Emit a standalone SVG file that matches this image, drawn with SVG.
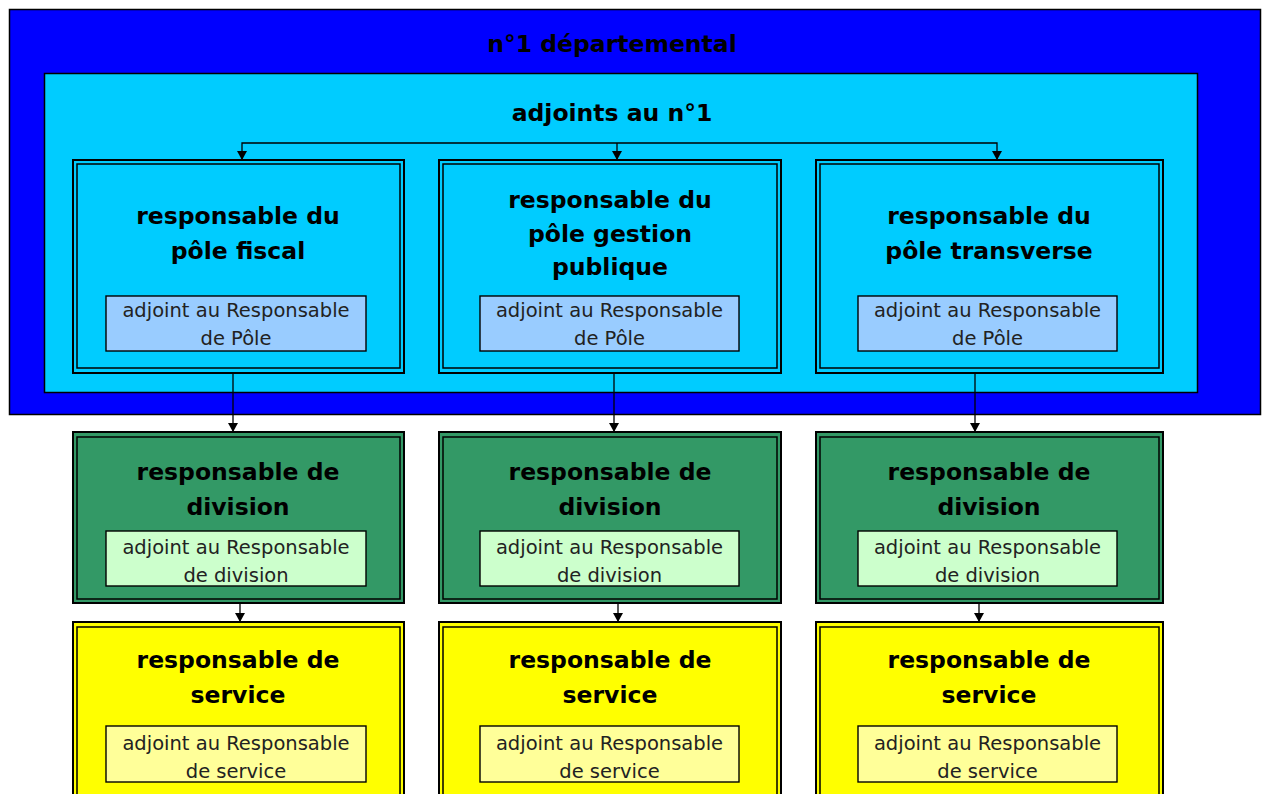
<svg xmlns="http://www.w3.org/2000/svg" width="1265" height="794" viewBox="0 0 1265 794">
<defs>
<style>
.big{font-family:"DejaVu Sans","Liberation Sans",sans-serif;font-weight:bold;font-size:23.5px;fill:#000;text-anchor:middle}
.small{font-family:"DejaVu Sans","Liberation Sans",sans-serif;font-size:19.5px;fill:#222;text-anchor:middle}
.outer{stroke:#000;stroke-width:2}
.inner{fill:none;stroke:#000;stroke-width:1.5}
.sub{stroke:#000;stroke-width:1.4}
.pole{fill:#00CCFF}
.div{fill:#339966}
.svc{fill:#FFFF00}
.conn{fill:none;stroke:#000;stroke-width:1.3}
</style>
<marker id="arr" markerUnits="userSpaceOnUse" markerWidth="11" markerHeight="11" refX="9" refY="5" orient="auto">
<path d="M0,0 L9,5 L0,10 z" fill="#000"/>
</marker>
</defs>
<rect width="1265" height="794" fill="#fff"/>

<g id="n1">
<rect x="9.5" y="9.5" width="1251" height="405" fill="#0000FF" stroke="#000" stroke-width="1.5"/>
<text class="big" x="612" y="52">n°1 départemental</text>
</g>

<g id="adjoints">
<rect x="44.5" y="73.5" width="1153" height="319" fill="#00CCFF" stroke="#000" stroke-width="1.5"/>
<text class="big" x="612" y="121">adjoints au n°1</text>
</g>

<g id="pole-fiscal">
<rect class="outer pole" x="73" y="160" width="331" height="213"/>
<rect class="inner" x="77" y="164" width="323" height="204"/>
<text class="big" x="238" y="224">responsable du</text>
<text class="big" x="238" y="259">pôle fiscal</text>
<rect class="sub" x="106" y="296" width="260" height="55" fill="#99CCFF"/>
<text class="small" x="236" y="317">adjoint au Responsable</text>
<text class="small" x="236" y="345">de Pôle</text>
</g>

<g id="pole-gestion">
<rect class="outer pole" x="439" y="160" width="342" height="213"/>
<rect class="inner" x="443" y="164" width="334" height="204"/>
<text class="big" x="610" y="208">responsable du</text>
<text class="big" x="610" y="242">pôle gestion</text>
<text class="big" x="610" y="275">publique</text>
<rect class="sub" x="480" y="296" width="259" height="55" fill="#99CCFF"/>
<text class="small" x="609.5" y="317">adjoint au Responsable</text>
<text class="small" x="609.5" y="345">de Pôle</text>
</g>

<g id="pole-transverse">
<rect class="outer pole" x="816" y="160" width="347" height="213"/>
<rect class="inner" x="820" y="164" width="339" height="204"/>
<text class="big" x="989" y="224">responsable du</text>
<text class="big" x="989" y="259">pôle transverse</text>
<rect class="sub" x="858" y="296" width="259" height="55" fill="#99CCFF"/>
<text class="small" x="987.5" y="317">adjoint au Responsable</text>
<text class="small" x="987.5" y="345">de Pôle</text>
</g>

<g id="division-1">
<rect class="outer div" x="73" y="432" width="331" height="171"/>
<rect class="inner" x="77" y="437" width="323" height="162"/>
<text class="big" x="238" y="480">responsable de</text>
<text class="big" x="238" y="515">division</text>
<rect class="sub" x="106" y="531" width="260" height="55" fill="#CCFFCC"/>
<text class="small" x="236" y="554">adjoint au Responsable</text>
<text class="small" x="236" y="582">de division</text>
</g>

<g id="division-2">
<rect class="outer div" x="439" y="432" width="342" height="171"/>
<rect class="inner" x="443" y="437" width="334" height="162"/>
<text class="big" x="610" y="480">responsable de</text>
<text class="big" x="610" y="515">division</text>
<rect class="sub" x="480" y="531" width="259" height="55" fill="#CCFFCC"/>
<text class="small" x="609.5" y="554">adjoint au Responsable</text>
<text class="small" x="609.5" y="582">de division</text>
</g>

<g id="division-3">
<rect class="outer div" x="816" y="432" width="347" height="171"/>
<rect class="inner" x="820" y="437" width="339" height="162"/>
<text class="big" x="989" y="480">responsable de</text>
<text class="big" x="989" y="515">division</text>
<rect class="sub" x="858" y="531" width="259" height="55" fill="#CCFFCC"/>
<text class="small" x="987.5" y="554">adjoint au Responsable</text>
<text class="small" x="987.5" y="582">de division</text>
</g>

<g id="service-1">
<rect class="outer svc" x="73" y="622" width="331" height="190"/>
<rect class="inner" x="77" y="627" width="323" height="180"/>
<text class="big" x="238" y="668">responsable de</text>
<text class="big" x="238" y="703">service</text>
<rect class="sub" x="106" y="726" width="260" height="56" fill="#FFFF99"/>
<text class="small" x="236" y="750">adjoint au Responsable</text>
<text class="small" x="236" y="778">de service</text>
</g>

<g id="service-2">
<rect class="outer svc" x="439" y="622" width="342" height="190"/>
<rect class="inner" x="443" y="627" width="334" height="180"/>
<text class="big" x="610" y="668">responsable de</text>
<text class="big" x="610" y="703">service</text>
<rect class="sub" x="480" y="726" width="259" height="56" fill="#FFFF99"/>
<text class="small" x="609.5" y="750">adjoint au Responsable</text>
<text class="small" x="609.5" y="778">de service</text>
</g>

<g id="service-3">
<rect class="outer svc" x="816" y="622" width="347" height="190"/>
<rect class="inner" x="820" y="627" width="339" height="180"/>
<text class="big" x="989" y="668">responsable de</text>
<text class="big" x="989" y="703">service</text>
<rect class="sub" x="858" y="726" width="259" height="56" fill="#FFFF99"/>
<text class="small" x="987.5" y="750">adjoint au Responsable</text>
<text class="small" x="987.5" y="778">de service</text>
</g>

<g id="connectors">
<path class="conn" d="M617,143 H242 V160" marker-end="url(#arr)"/>
<path class="conn" d="M617,143 V160" marker-end="url(#arr)"/>
<path class="conn" d="M617,143 H997 V160" marker-end="url(#arr)"/>
<path class="conn" d="M233,373 V432" marker-end="url(#arr)"/>
<path class="conn" d="M614,373 V432" marker-end="url(#arr)"/>
<path class="conn" d="M975,373 V432" marker-end="url(#arr)"/>
<path class="conn" d="M240,603 V622" marker-end="url(#arr)"/>
<path class="conn" d="M618,603 V622" marker-end="url(#arr)"/>
<path class="conn" d="M979,603 V622" marker-end="url(#arr)"/>
</g>
</svg>
